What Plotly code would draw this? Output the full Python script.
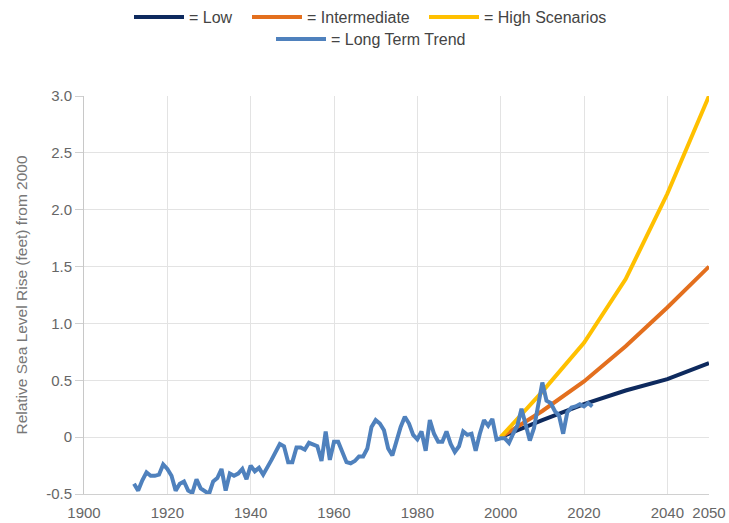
import plotly.graph_objects as go

scenario_years = [2000, 2010, 2020, 2030, 2040, 2050]
low = [0.0, 0.15, 0.29, 0.41, 0.51, 0.65]
intermediate = [0.0, 0.23, 0.49, 0.80, 1.14, 1.50]
high = [0.0, 0.40, 0.83, 1.39, 2.14, 3.00]

trend_years = list(range(1912, 2023))
trend = [
    -0.41, -0.47, -0.38, -0.31, -0.34, -0.34, -0.33, -0.24, -0.28, -0.34,
    -0.47, -0.41, -0.39, -0.47, -0.49, -0.37, -0.45, -0.48, -0.50, -0.39,
    -0.36, -0.28, -0.47, -0.32, -0.34, -0.32, -0.28, -0.37, -0.25, -0.30,
    -0.27, -0.33, -0.27, -0.20, -0.13, -0.06, -0.08, -0.22, -0.22, -0.09,
    -0.09, -0.11, -0.05, -0.07, -0.08, -0.21, 0.05, -0.20, -0.04, -0.04,
    -0.13, -0.22, -0.23, -0.21, -0.17, -0.17, -0.10, 0.09, 0.15, 0.12,
    0.06, -0.10, -0.16, -0.03, 0.09, 0.18, 0.12, 0.02, -0.02, 0.05,
    -0.12, 0.15, 0.03, -0.04, -0.04, 0.05, -0.06, -0.13, -0.08, 0.05,
    0.02, 0.03, -0.12, 0.03, 0.15, 0.10, 0.16, -0.02, -0.01, -0.01,
    -0.05, 0.03, 0.10, 0.25, 0.10, -0.03, 0.08, 0.28, 0.48, 0.32,
    0.30, 0.23, 0.19, 0.03, 0.22, 0.26, 0.27, 0.29, 0.27, 0.30,
    0.27,
]

x_ticks = [1900, 1920, 1940, 1960, 1980, 2000, 2020, 2040, 2050]
y_ticks = [-0.5, 0, 0.5, 1.0, 1.5, 2.0, 2.5, 3.0]
y_ticktext = ["-0.5", "0", "0.5", "1.0", "1.5", "2.0", "2.5", "3.0"]

W, H = 729, 523

fig = go.Figure()
fig.add_trace(go.Scatter(x=scenario_years, y=low, mode="lines", name="= Low",
                         line=dict(color="#0E2A5E", width=4), legend="legend"))
fig.add_trace(go.Scatter(x=scenario_years, y=intermediate, mode="lines", name="= Intermediate",
                         line=dict(color="#E36F1E", width=4), legend="legend2"))
fig.add_trace(go.Scatter(x=scenario_years, y=high, mode="lines", name="= High Scenarios",
                         line=dict(color="#FFC000", width=4), legend="legend3"))
fig.add_trace(go.Scatter(x=trend_years, y=trend, mode="lines", name="= Long Term Trend",
                         line=dict(color="#4F81BD", width=4), legend="legend4"))


def leg(px, py):
    return dict(orientation="h", x=px / W, xanchor="left", xref="container",
                y=1 - py / H, yanchor="top", yref="container",
                itemwidth=50, font=dict(size=16, color="#444"),
                bgcolor="rgba(0,0,0,0)")


fig.update_layout(
    width=W, height=H,
    margin=dict(l=84, r=20, t=96, b=29),
    paper_bgcolor="white", plot_bgcolor="white",
    font=dict(family="Liberation Sans, Arial, sans-serif", size=15, color="#666"),
    legend=leg(129, 0),
    legend2=leg(247, 0),
    legend3=leg(424, 0),
    legend4=leg(271, 22),
    showlegend=True,
)
fig.update_xaxes(range=[1900, 2050], tickvals=x_ticks, showgrid=True, gridcolor="#e3e3e3",
                 zeroline=False, showline=True, linecolor="#d0d0d0", ticks="",
                 ticklabelstandoff=5,
                 tickfont=dict(size=15, color="#666"), automargin=False)
fig.update_yaxes(range=[-0.5, 3.0], tickvals=y_ticks, ticktext=y_ticktext, showgrid=True,
                 gridcolor="#e3e3e3", zeroline=False, showline=True, linecolor="#c8c8c8",
                 ticks="outside", ticklen=8, tickcolor="#d0d0d0",
                 tickfont=dict(size=15, color="#666"), automargin=False,
                 title=dict(text="Relative Sea Level Rise (feet) from 2000",
                            font=dict(size=15.5, color="#777"), standoff=14))

fig.write_html("out.html", config={"displayModeBar": False},
               post_script="document.body.style.margin='0';")
